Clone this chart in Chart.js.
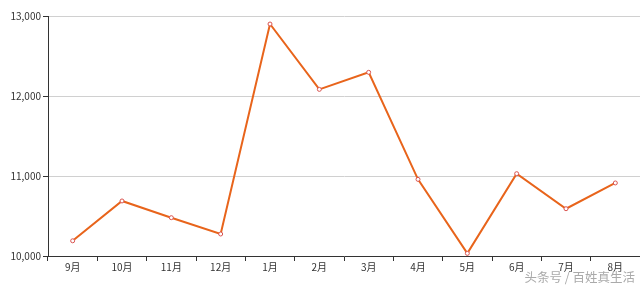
<!DOCTYPE html>
<html>
<head>
<meta charset="utf-8">
<script src="https://cdn.jsdelivr.net/npm/chart.js@4"></script>
<style>
  html, body { margin: 0; padding: 0; background: #fff; overflow: hidden; }
  #wrap { position: relative; width: 640px; height: 288px; }
  #priceChart { display: block; }
  #mark { position: absolute; right: 5px; bottom: 2px; font: 12.5px "Noto Sans CJK SC", sans-serif; color: #aaa; }
</style>
</head>
<body>
<div id="wrap">
  <canvas id="priceChart" width="640" height="288"></canvas>
  <div id="mark">头条号 / 百姓真生活</div>
</div>
<script>
var months = ["9月", "10月", "11月", "12月", "1月", "2月", "3月", "4月", "5月", "6月", "7月", "8月"];
var prices = [10190, 10688, 10479, 10275, 12900, 12083, 12296, 10958, 10033, 11029, 10591, 10913];
var yTicks = [10000, 11000, 12000, 13000];

var tickFont = { family: "'Noto Sans CJK SC', 'DejaVu Sans', sans-serif", size: 10 };

var priceChart = new Chart("priceChart", {
  type: 'line',
  data: {
    labels: months,
    datasets: [{
      data: prices,
      borderColor: '#e8641b',
      borderWidth: 2,
      pointRadius: 2,
      pointBorderWidth: 1,
      pointBackgroundColor: '#fff',
      pointBorderColor: '#d9534f',
      tension: 0,
    }]
  },
  options: {
    responsive: false,
    animation: false,
    layout: {
      autoPadding: false,
      padding: { top: 16, right: 0, left: 0, bottom: 0 },
    },
    plugins: {
      legend: { display: false },
      tooltip: { enabled: false },
    },
    scales: {
      x: {
        offset: true,
        grid: {
          offset: true,
          drawOnChartArea: false,
          tickColor: '#333',
          tickLength: 5,
        },
        border: { color: '#333', width: 1 },
        ticks: { font: tickFont, color: '#333', padding: 0, maxRotation: 0 },
        afterFit: function (scale) {
          scale.height = 32;
          scale.paddingLeft = 0;
          scale.paddingRight = 0;
        },
      },
      y: {
        min: yTicks[0],
        max: yTicks[yTicks.length - 1],
        afterBuildTicks: function (scale) {
          scale.ticks = yTicks.map(function (v) { return { value: v }; });
        },
        grid: {
          color: '#d0d0d0',
          tickColor: '#333',
          tickLength: 5,
        },
        border: { color: '#333', width: 1 },
        ticks: { font: tickFont, color: '#333', padding: 2 },
        afterFit: function (scale) { scale.width = 48; },
      }
    }
  }
});
</script>
</body>
</html>
